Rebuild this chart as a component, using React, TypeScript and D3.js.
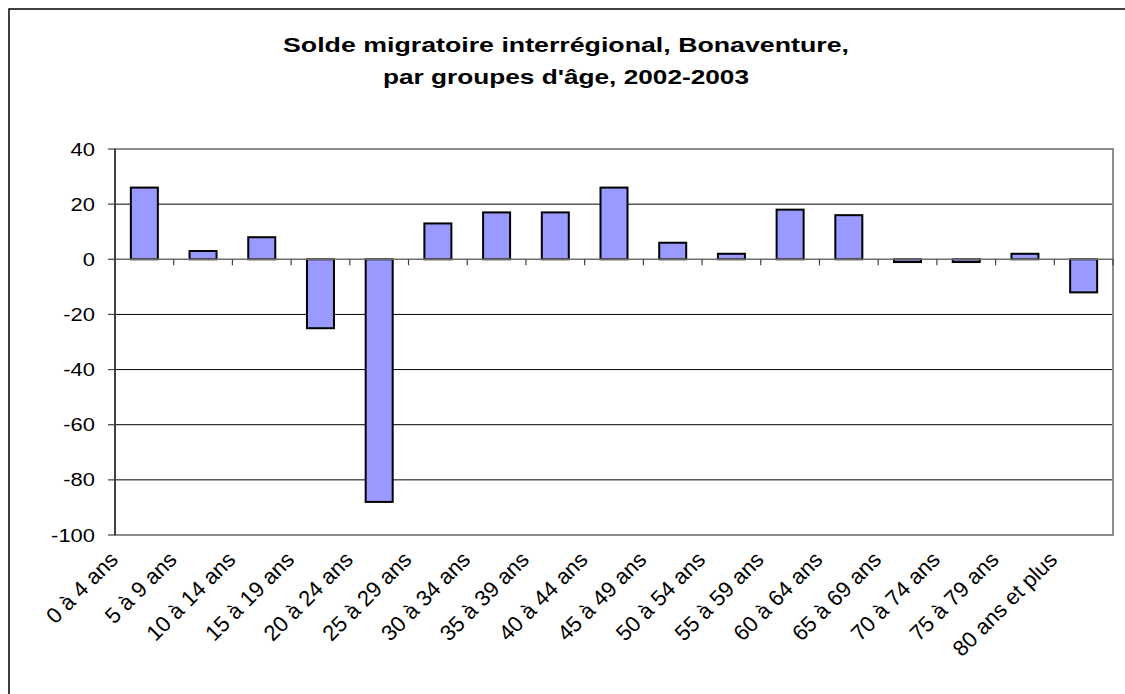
import React from "react";
import * as d3 from "d3";

const categories = [
  "0 à 4 ans", "5 à 9 ans", "10 à 14 ans", "15 à 19 ans", "20 à 24 ans",
  "25 à 29 ans", "30 à 34 ans", "35 à 39 ans", "40 à 44 ans", "45 à 49 ans",
  "50 à 54 ans", "55 à 59 ans", "60 à 64 ans", "65 à 69 ans", "70 à 74 ans",
  "75 à 79 ans", "80 ans et plus",
];
const solde = [26, 3, 8, -25, -88, 13, 17, 17, 26, 6, 2, 18, 16, -1, -1, 2, -12];
const yTicks = [40, 20, 0, -20, -40, -60, -80, -100];
const titleLines = ["Solde migratoire interrégional, Bonaventure,", "par groupes d'âge, 2002-2003"];

const W = 1125;
const H = 694;

const App = () => {
  const svgRef = React.useRef<SVGSVGElement>(null);

  React.useEffect(() => {
    document.body.style.margin = "0";
    const svg = d3.select(svgRef.current);
    svg.selectAll("*").remove();

    const left = 115, right = 1113, top = 149, bottom = 535;
    const font = "Liberation Sans, Arial, sans-serif";

    const x = d3.scaleBand().domain(categories).range([left, right]).padding(0);
    const y = d3.scaleLinear().domain([-100, 40]).range([bottom, top]);
    const barW = x.bandwidth() * 0.46;

    // outer chart border (right/bottom fall outside the picture)
    svg.append("rect")
      .attr("x", 9).attr("y", 9)
      .attr("width", W + 20).attr("height", H + 20)
      .attr("fill", "white").attr("stroke", "black").attr("stroke-width", 1.5);

    // title
    const tw = [566, 366];
    svg.append("g")
      .attr("font-family", font).attr("font-weight", "bold").attr("font-size", 21)
      .attr("text-anchor", "middle")
      .selectAll("text")
      .data(titleLines)
      .join("text")
      .attr("x", 566)
      .attr("y", (_, i) => 52 + i * 32)
      .attr("textLength", (_, i) => tw[i])
      .attr("lengthAdjust", "spacingAndGlyphs")
      .text((d) => d);

    // gridlines
    svg.append("g")
      .selectAll("line")
      .data(yTicks.filter((t) => t !== 40 && t !== -100 && t !== 0))
      .join("line")
      .attr("x1", left).attr("x2", right)
      .attr("y1", (d) => y(d)).attr("y2", (d) => y(d))
      .attr("stroke", "black").attr("stroke-width", 1);

    // plot frame
    svg.append("rect")
      .attr("x", left).attr("y", top)
      .attr("width", right - left).attr("height", bottom - top)
      .attr("fill", "none").attr("stroke", "#8c8c8c").attr("stroke-width", 2);

    // bars
    svg.append("g")
      .selectAll("rect")
      .data(solde)
      .join("rect")
      .attr("x", (_, i) => x(categories[i])! + (x.bandwidth() - barW) / 2)
      .attr("y", (d) => y(Math.max(0, d)))
      .attr("width", barW)
      .attr("height", (d) => Math.abs(y(d) - y(0)))
      .attr("fill", "#9999ff")
      .attr("stroke", "black").attr("stroke-width", 2);

    // category axis at zero
    svg.append("line")
      .attr("x1", left).attr("x2", right)
      .attr("y1", y(0)).attr("y2", y(0))
      .attr("stroke", "#6e6e6e").attr("stroke-width", 1.5);
    svg.append("g")
      .selectAll("line")
      .data(categories.map((c) => x(c)! + x.bandwidth()))
      .join("line")
      .attr("x1", (d) => d).attr("x2", (d) => d)
      .attr("y1", y(0)).attr("y2", y(0) + 6)
      .attr("stroke", "#404040").attr("stroke-width", 1.2);

    // value axis
    svg.append("line")
      .attr("x1", left).attr("x2", left)
      .attr("y1", top).attr("y2", bottom)
      .attr("stroke", "#404040").attr("stroke-width", 2);
    const yg = svg.append("g").attr("font-family", font).attr("font-size", 18);
    yg.selectAll("line")
      .data(yTicks)
      .join("line")
      .attr("x1", left - 7).attr("x2", left)
      .attr("y1", (d) => y(d)).attr("y2", (d) => y(d))
      .attr("stroke", "#404040").attr("stroke-width", 1.2);
    yg.selectAll("text")
      .data(yTicks)
      .join("text")
      .attr("text-anchor", "end")
      .attr("transform", (d) => `translate(95,${y(d) + 6.5}) scale(1.22,1)`)
      .text((d) => d);

    // category labels
    svg.append("g")
      .attr("font-family", font).attr("font-size", 22)
      .attr("text-anchor", "end")
      .selectAll("text")
      .data(categories)
      .join("text")
      .attr("transform", (d) => `translate(${x(d)! + x.bandwidth() / 2 - 25},${bottom + 26}) rotate(-45)`)
      .text((d) => d);
  }, []);

  return <svg ref={svgRef} width={W} height={H} style={{ display: "block", background: "white" }} />;
};

export default App;
